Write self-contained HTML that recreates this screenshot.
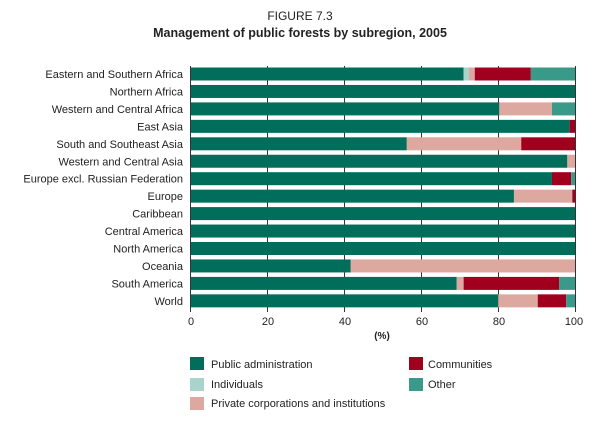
<!DOCTYPE html>
<html><head><style>
body{margin:0;background:#fff;}
svg text{font-family:"Liberation Sans",Arial,sans-serif;fill:#222;}
</style></head><body>
<svg width="600" height="427" viewBox="0 0 600 427" xmlns="http://www.w3.org/2000/svg">
<text x="300" y="20" font-size="12" text-anchor="middle">FIGURE 7.3</text>
<text x="300" y="37" font-size="12.5" font-weight="bold" text-anchor="middle">Management of public forests by subregion, 2005</text>
<g stroke="#333" stroke-width="1">
<line x1="190.5" y1="66" x2="190.5" y2="312"/>
<line x1="267.5" y1="66" x2="267.5" y2="312"/>
<line x1="344.5" y1="66" x2="344.5" y2="312"/>
<line x1="421.5" y1="66" x2="421.5" y2="312"/>
<line x1="498.5" y1="66" x2="498.5" y2="312"/>
<line x1="575.5" y1="66" x2="575.5" y2="312"/>
</g>
<g id="bars"></g>
<g font-size="11" text-anchor="end" id="labels"></g>
<g font-size="11" text-anchor="middle">
<text x="191" y="325">0</text><text x="268" y="325">20</text><text x="345" y="325">40</text><text x="422" y="325">60</text><text x="499" y="325">80</text><text x="574" y="325">100</text>
<text x="382" y="339" font-weight="bold" font-size="10">(%)</text>
</g>
<g font-size="11">
<rect x="190" y="357" width="14" height="13" fill="#006e5a"/><text x="211" y="368">Public administration</text>
<rect x="190" y="378" width="14" height="13" fill="#a8d4cc"/><text x="211" y="388">Individuals</text>
<rect x="190" y="397" width="14" height="13" fill="#dca8a0"/><text x="211" y="407">Private corporations and institutions</text>
<rect x="409" y="357" width="14" height="13" fill="#a0001e"/><text x="428" y="368">Communities</text>
<rect x="409" y="378" width="14" height="13" fill="#3a9a8a"/><text x="428" y="388">Other</text>
</g>
<script>
var C={p:"#006e5a",i:"#a8d4cc",r:"#dca8a0",c:"#a0001e",o:"#3a9a8a"};
var rows=[
["Eastern and Southern Africa",[["p",71],["i",1.4],["r",1.5],["c",14.6],["o",11.5]]],
["Northern Africa",[["p",100]]],
["Western and Central Africa",[["p",80.3],["r",13.7],["o",6]]],
["East Asia",[["p",98.6],["c",1.4]]],
["South and Southeast Asia",[["p",56.2],["r",29.8],["c",14]]],
["Western and Central Asia",[["p",98],["r",2]]],
["Europe excl. Russian Federation",[["p",94],["c",5],["o",1]]],
["Europe",[["p",84.1],["r",15.2],["c",0.7]]],
["Caribbean",[["p",100]]],
["Central America",[["p",100]]],
["North America",[["p",100]]],
["Oceania",[["p",41.6],["r",58.4]]],
["South America",[["p",69.2],["r",1.8],["c",24.9],["o",4.1]]],
["World",[["p",80],["r",10.3],["c",7.4],["o",2.3]]]];
var ns="http://www.w3.org/2000/svg",b=document.getElementById("bars"),l=document.getElementById("labels");
rows.forEach(function(r,k){var y=67.5+k*17.45,x=191;
r[1].forEach(function(s){var w=s[1]*3.84,e=document.createElementNS(ns,"rect");
e.setAttribute("x",x);e.setAttribute("y",y);e.setAttribute("width",w);e.setAttribute("height",13);e.setAttribute("fill",C[s[0]]);b.appendChild(e);x+=w;});
var t=document.createElementNS(ns,"text");t.setAttribute("x",183);t.setAttribute("y",y+10.5);t.textContent=r[0];l.appendChild(t);});
</script>
</svg>
</body></html>
